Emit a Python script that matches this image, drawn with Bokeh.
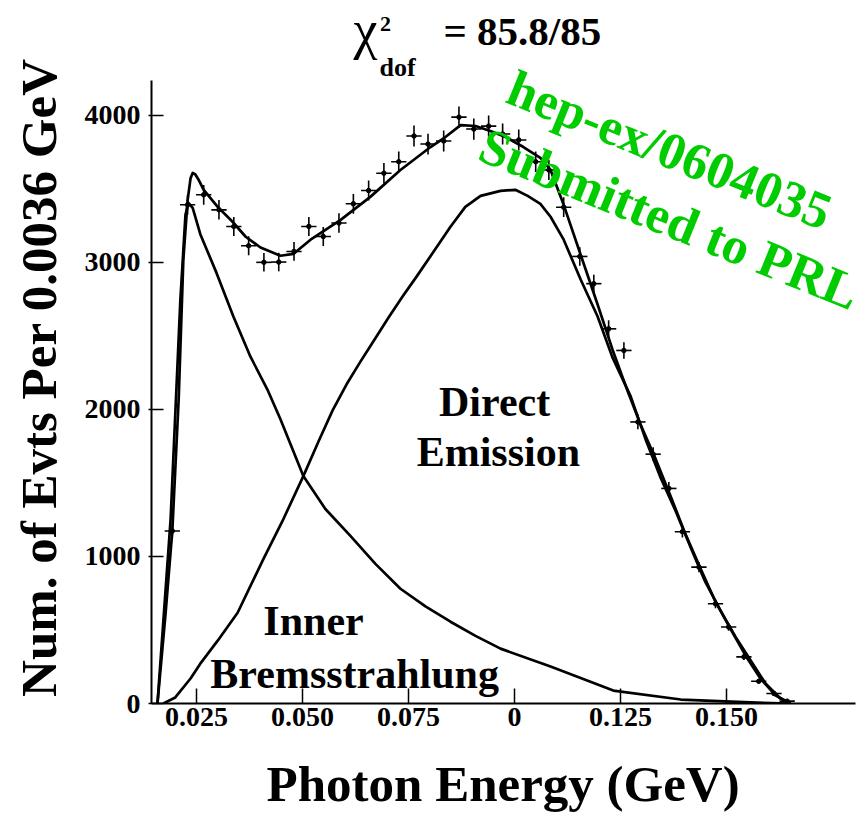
import numpy as np
from bokeh.plotting import figure
from bokeh.models import Range1d, FixedTicker, Label
from bokeh.embed import file_html
from bokeh.resources import INLINE

# Measured photon-energy spectrum (bin width 0.0036 GeV)
energy = [0.0193, 0.0229, 0.0267, 0.0303, 0.0338, 0.0373, 0.0409, 0.0444, 0.0480, 0.0515,
          0.0549, 0.0586, 0.0620, 0.0656, 0.0692, 0.0727, 0.0763, 0.0796, 0.0833, 0.0869,
          0.0904, 0.0939, 0.0972, 0.1010, 0.1050, 0.1081, 0.1116, 0.1154, 0.1187, 0.1222,
          0.1258, 0.1291, 0.1327, 0.1364, 0.1396, 0.1435, 0.1474, 0.1505, 0.1541, 0.1576,
          0.1612, 0.1643]
counts = [1173, 3390, 3458, 3356, 3243, 3112, 2999, 3001, 3073, 3243,
          3175, 3266, 3397, 3487, 3605, 3683, 3858, 3803, 3824, 3986,
          3905, 3925, 3871, 3831, 3683, 3627, 3374, 3039, 2854, 2547,
          2400, 1914, 1695, 1462, 1168, 927, 678, 520, 317, 151,
          68, 16]
count_err = [40, 67, 67, 66, 65, 64, 63, 63, 64, 65,
             65, 66, 67, 68, 69, 70, 71, 71, 71, 72,
             72, 72, 71, 71, 70, 69, 67, 63, 61, 58,
             56, 50, 47, 44, 39, 35, 30, 26, 21, 14,
             10, 5]
bin_half_width = 0.0018

# Total fit
fit_x = [0.0158, 0.0177, 0.0193, 0.0208, 0.0219, 0.0229, 0.0236, 0.0241, 0.0247, 0.0256,
         0.0267, 0.0300, 0.0335, 0.0366, 0.0401, 0.0448, 0.0479, 0.0519, 0.0590, 0.0660,
         0.0731, 0.0802, 0.0837, 0.0873, 0.0908, 0.0943, 0.0979, 0.1021, 0.1061, 0.1085,
         0.1116, 0.1156, 0.1196, 0.1231, 0.1267, 0.1297, 0.1333, 0.1368, 0.1403, 0.1439,
         0.1474, 0.1509, 0.1545, 0.1580, 0.1616, 0.1651]
fit_y = [0, 610, 1173, 2068, 3017, 3420, 3570, 3607, 3598, 3555,
         3492, 3376, 3275, 3173, 3100, 3044, 3057, 3153, 3288, 3444,
         3627, 3783, 3851, 3932, 3926, 3892, 3851, 3783, 3709, 3627,
         3390, 3051, 2712, 2407, 2122, 1898, 1661, 1410, 1153, 915,
         692, 509, 325, 170, 54, 0]

# Inner Bremsstrahlung component
ib_x = [0.0158, 0.0189, 0.0212, 0.0224, 0.0231, 0.0241, 0.0259, 0.0297, 0.0337, 0.0377,
        0.0417, 0.0448, 0.0502, 0.0554, 0.0613, 0.0672, 0.0731, 0.0790, 0.0849, 0.0908,
        0.0967, 0.1085, 0.1233, 0.1392, 0.1557, 0.1651]
ib_y = [0, 1254, 2746, 3322, 3404, 3370, 3190, 2929, 2631, 2359,
        2136, 1932, 1546, 1322, 1139, 949, 780, 660, 556, 460,
        373, 251, 88, 27, 7, 0]

# Direct Emission component
de_x = [0.0172, 0.0200, 0.0236, 0.0259, 0.0300, 0.0347, 0.0408, 0.0455, 0.0502, 0.0538,
        0.0571, 0.0604, 0.0637, 0.0670, 0.0703, 0.0736, 0.0769, 0.0809, 0.0849, 0.0884,
        0.0920, 0.0967, 0.1002, 0.1031, 0.1061, 0.1085, 0.1116, 0.1156, 0.1196, 0.1231,
        0.1274, 0.1309, 0.1344, 0.1380, 0.1415, 0.1450, 0.1486, 0.1521, 0.1557, 0.1592,
        0.1627, 0.1651]
de_y = [0, 41, 170, 271, 427, 617, 983, 1254, 1546, 1783,
        1993, 2170, 2326, 2475, 2624, 2766, 2902, 3071, 3241, 3376,
        3451, 3485, 3492, 3451, 3397, 3309, 3153, 2882, 2631, 2353,
        2088, 1797, 1539, 1309, 1064, 827, 631, 454, 292, 136,
        34, 0]

x_ticks = [0.025, 0.050, 0.075, 0.100, 0.125, 0.150]
x_tick_labels = ["0.025", "0.050", "0.075", "0", "0.125", "0.150"]
y_ticks = [0, 1000, 2000, 3000, 4000]
y_tick_labels = ["0", "1000", "2000", "3000", "4000"]

# Extent of the drawn axes; the plotting area reaches a little further so the
# header and the stamp have room inside it.
x_axis_extent = (0.01439, 0.1804)
y_axis_extent = (0, 4237)

SERIF = "Liberation Serif"
GREEN = "#00cc00"
NBSP = "\u00a0"


def make_label(text, x, y, size, style="bold", color="black", align="center",
               baseline="middle", angle=0, units="data"):
    return Label(x=x, y=y, x_units=units, y_units=units, text=text,
                 text_font=SERIF, text_font_style=style, text_font_size=size,
                 text_color=color, text_align=align, text_baseline=baseline,
                 angle=angle, angle_units="deg")


p = figure(width=867, height=814, output_backend="svg", toolbar_location=None,
           x_range=Range1d(0.01439, 0.18325), y_range=Range1d(0, 4779),
           min_border_left=151, min_border_right=0, min_border_top=0,
           min_border_bottom=109, background_fill_color="white",
           border_fill_color="white")
p.outline_line_color = None
p.grid.visible = False

for ax in (p.xaxis[0], p.yaxis[0]):
    ax.axis_line_width = 2
    ax.axis_line_color = "black"
    ax.major_tick_line_width = 1.5
    ax.minor_tick_line_color = None
    ax.major_label_text_font = SERIF
    ax.major_label_text_font_style = "bold"
    ax.major_label_text_font_size = "28px"
    ax.major_label_text_color = "black"
    ax.axis_label_text_font = SERIF
    ax.axis_label_text_font_style = "bold"
    ax.axis_label_text_color = "black"

p.xaxis.bounds = x_axis_extent
p.xaxis.ticker = FixedTicker(ticks=x_ticks)
p.xaxis.major_label_overrides = dict(zip(x_ticks, x_tick_labels))
p.xaxis.major_tick_in = 15
p.xaxis.major_tick_out = 0
p.xaxis.major_label_standoff = 4
# trailing non-breaking space nudges the centred title toward the axis middle
p.xaxis.axis_label = "Photon Energy (GeV)" + NBSP
p.xaxis.axis_label_text_font_size = "51px"
p.xaxis.axis_label_standoff = 27

p.yaxis.bounds = y_axis_extent
p.yaxis.ticker = FixedTicker(ticks=y_ticks)
p.yaxis.major_label_overrides = dict(zip(y_ticks, y_tick_labels))
p.yaxis.major_tick_in = 12
p.yaxis.major_tick_out = 3
p.yaxis.major_label_standoff = 8
p.yaxis.axis_label = "Num. of Evts Per 0.0036 GeV" + NBSP * 4
p.yaxis.axis_label_text_font_size = "51px"
p.yaxis.axis_label_standoff = 15

# Component and total curves
p.line(ib_x, ib_y, line_color="black", line_width=2.7, line_join="round")
p.line(de_x, de_y, line_color="black", line_width=2.7, line_join="round")
p.line(fit_x, fit_y, line_color="black", line_width=2.7, line_join="round")

# Data points with error bars
e = np.array(energy)
c = np.array(counts)
s = np.array(count_err)
p.segment(x0=e, y0=c - s, x1=e, y1=c + s, line_color="black", line_width=1.6)
p.segment(x0=e - bin_half_width, y0=c, x1=e + bin_half_width, y1=c,
          line_color="black", line_width=1.6)
p.scatter(e, c, size=4.5, color="black")

# Component names
p.add_layout(make_label("Direct", 0.0953, 2048, "42px"))
p.add_layout(make_label("Emission", 0.0962, 1709, "42px"))
p.add_layout(make_label("Inner", 0.0526, 560, "42px"))
p.add_layout(make_label("Bremsstrahlung", 0.0623, 200, "42px"))

# Preprint stamp
p.add_layout(make_label("hep-ex/0604035", 0.1366, 3763, "52px", color=GREEN, angle=-22))
p.add_layout(make_label("Submitted to PRL", 0.1366, 3295, "52px", color=GREEN, angle=-22))

# Fit quality header (screen offsets from the lower-left corner of the plot area)
p.add_layout(make_label("\u03c7", 214, 674, "54px", style="normal",
                        baseline="alphabetic", units="screen"))
p.add_layout(make_label("2", 234, 680, "22px", units="screen"))
p.add_layout(make_label("dof", 246, 636, "26px", baseline="alphabetic", units="screen"))
p.add_layout(make_label("= 85.8/85", 292, 673, "41px", align="left",
                        baseline="alphabetic", units="screen"))

open("out.html", "w").write(file_html(p, INLINE))
